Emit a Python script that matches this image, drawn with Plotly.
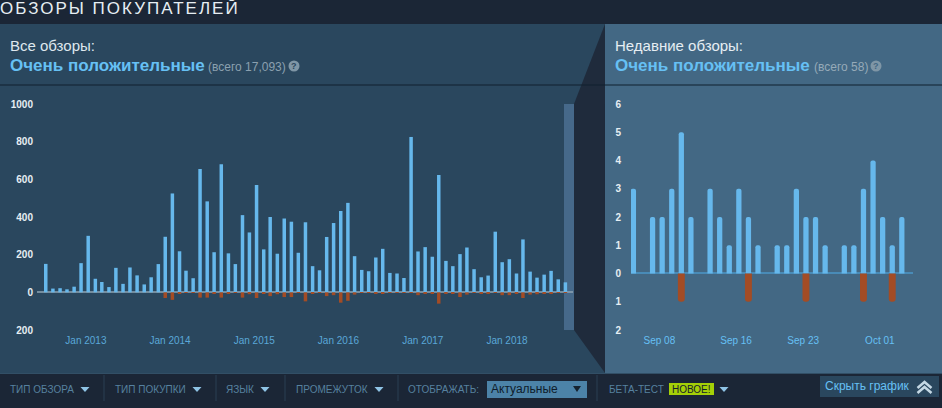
import plotly.graph_objects as go

# ---- data ----
months = ["2012-07-01", "2012-08-01", "2012-09-01", "2012-10-01", "2012-11-01", "2012-12-01",
          "2013-01-01", "2013-02-01", "2013-03-01", "2013-04-01", "2013-05-01", "2013-06-01",
          "2013-07-01", "2013-08-01", "2013-09-01", "2013-10-01", "2013-11-01", "2013-12-01",
          "2014-01-01", "2014-02-01", "2014-03-01", "2014-04-01", "2014-05-01", "2014-06-01",
          "2014-07-01", "2014-08-01", "2014-09-01", "2014-10-01", "2014-11-01", "2014-12-01",
          "2015-01-01", "2015-02-01", "2015-03-01", "2015-04-01", "2015-05-01", "2015-06-01",
          "2015-07-01", "2015-08-01", "2015-09-01", "2015-10-01", "2015-11-01", "2015-12-01",
          "2016-01-01", "2016-02-01", "2016-03-01", "2016-04-01", "2016-05-01", "2016-06-01",
          "2016-07-01", "2016-08-01", "2016-09-01", "2016-10-01", "2016-11-01", "2016-12-01",
          "2017-01-01", "2017-02-01", "2017-03-01", "2017-04-01", "2017-05-01", "2017-06-01",
          "2017-07-01", "2017-08-01", "2017-09-01", "2017-10-01", "2017-11-01", "2017-12-01",
          "2018-01-01", "2018-02-01", "2018-03-01", "2018-04-01", "2018-05-01", "2018-06-01",
          "2018-07-01", "2018-08-01", "2018-09-01"]
all_up = [151, 20, 22, 16, 30, 155,
          300, 72, 55, 28, 130, 45, 132, 90, 42, 80, 150, 295,
          525, 218, 115, 75, 655, 483, 213, 680, 207, 150, 410, 318,
          570, 228, 400, 205, 392, 375, 210, 372, 139, 117, 294, 368,
          432, 475, 192, 119, 112, 185, 231, 103, 100, 76, 825, 217,
          240, 189, 623, 167, 139, 203, 238, 123, 80, 89, 322, 160,
          176, 100, 281, 110, 78, 94, 114, 69, 53]
all_down = [0, 0, 0, 0, 0, 0,
            0, 0, 0, 0, 0, 0, 0, 0, 0, 0, 0, -30,
            -40, -5, -3, -3, -28, -28, -8, -28, -5, -3, -28, -10,
            -30, -5, -20, -10, -25, -25, -3, -48, -5, -3, -20, -15,
            -55, -45, -12, -3, -3, -8, -5, -3, -3, -3, -3, -15,
            -8, -8, -60, -5, -5, -25, -12, -3, -5, -5, -3, -15,
            -15, -5, -30, -12, -10, -8, -8, -2, -2]
days = ["2018-09-05", "2018-09-07", "2018-09-08", "2018-09-09", "2018-09-10", "2018-09-11",
        "2018-09-13", "2018-09-14", "2018-09-15", "2018-09-16", "2018-09-17", "2018-09-18",
        "2018-09-20", "2018-09-21", "2018-09-22", "2018-09-23", "2018-09-24", "2018-09-25",
        "2018-09-27", "2018-09-28", "2018-09-29", "2018-09-30", "2018-10-01", "2018-10-02", "2018-10-03"]
recent_up = [3, 2, 2, 3, 5, 2, 3, 2, 1, 3, 2, 1, 1, 1, 3, 2, 2, 1, 1, 1, 3, 4, 2, 1, 2]
recent_down = [0, 0, 0, 0, -1, 0, 0, 0, 0, 0, -1, 0, 0, 0, 0, -1, 0, 0, 0, 0, -1, 0, 0, -1, 0]
all_ticks = ["2012-12-22", "2013-12-22", "2014-12-22", "2015-12-22", "2016-12-22", "2017-12-22"]
all_tick_text = ["Jan 2013", "Jan 2014", "Jan 2015", "Jan 2016", "Jan 2017", "Jan 2018"]
recent_ticks = ["2018-09-07T17:00", "2018-09-15T17:00", "2018-09-22T17:00", "2018-09-30T17:00"]
recent_tick_text = ["Sep 08", "Sep 16", "Sep 23", "Oct 01"]
left_y_ticks = [-200, 0, 200, 400, 600, 800, 1000]
left_y_text = ["200", "0", "200", "400", "600", "800", "1000"]
right_y_ticks = [-2, -1, 0, 1, 2, 3, 4, 5, 6]
right_y_text = ["2", "1", "0", "1", "2", "3", "4", "5", "6"]

W, H = 942, 408
BLUE = "#66b8ec"
RED = "#a34c25"
DARK = "#1b2636"
def X(p): return p / W
def Y(p): return 1 - p / H

DAY_MS = 86400000
fig = go.Figure()
fig.add_bar(x=months, y=all_up, marker=dict(color=BLUE, line_width=0), xaxis="x", yaxis="y")
fig.add_bar(x=months, y=all_down, marker=dict(color=RED, line_width=0), xaxis="x", yaxis="y")
fig.add_bar(x=days, y=recent_up, width=0.55 * DAY_MS, marker=dict(color=BLUE, line_width=0), xaxis="x2", yaxis="y2")
fig.add_bar(x=days, y=recent_down, width=0.72 * DAY_MS, marker=dict(color=RED, line_width=0, cornerradius=3), xaxis="x2", yaxis="y2")

def rect(x0, y0, x1, y1, color, layer="below"):
    return dict(type="rect", xref="paper", yref="paper", x0=X(x0), x1=X(x1), y0=Y(y1), y1=Y(y0),
                fillcolor=color, line_width=0, layer=layer)
def line(x0, y0, x1, y1, color, width=1, layer="below"):
    return dict(type="line", xref="paper", yref="paper", x0=X(x0), x1=X(x1), y0=Y(y0), y1=Y(y1),
                line=dict(color=color, width=width), layer=layer)
def poly(points, color):
    path = "M " + " L ".join(f"{X(a):.5f},{Y(b):.5f}" for a, b in points) + " Z"
    return dict(type="path", xref="paper", yref="paper", path=path, fillcolor=color, line_width=0, layer="below")

shapes = [
    rect(0, 0, W, H, DARK),
    rect(0, 24, 605, 373, "#2a475e"),
    rect(605, 24, W, 373, "#436884"),
    poly([(605, 24), (574, 104), (574, 330), (605, 373)], "#1f2b3c"),
    line(0, 85, W, 85, "#10202e"),
    rect(564, 104, 574, 330, "#46698a"),
    line(0, 373.5, W, 373.5, "#324f66"),
    line(37, 292, 573, 292, "#8fa5b5", 1.5),
    line(631, 273, 913, 273, "#4b97c8", 1.5),
    rect(487, 381, 587, 398, "#4c83a8"),
    rect(669, 383, 714, 395, "#a4d007"),
    rect(820, 376, 939, 397, "#2a475e"),
]
for sx in [104, 216, 285, 398, 597]:
    shapes.append(line(sx, 375, sx, 401, "#2a3f53"))

def text(px, py, s, size, color, anchor="left", family="Liberation Sans", bold=False):
    if bold:
        s = f"<b>{s}</b>"
    return dict(x=X(px), y=Y(py), xref="paper", yref="paper", text=s, showarrow=False, xanchor=anchor,
                yanchor="middle", font=dict(family=family, size=size, color=color), align=anchor,
                borderpad=0, borderwidth=0)

anns = [
    text(0, 8, "ОБЗОРЫ ПОКУПАТЕЛЕЙ", 17, "#e6eef3"),
    text(10, 45, "Все обзоры:", 15, "#dfe8ee"),
    text(10, 66, "Очень положительные", 17, "#66c0f4", bold=True),
    text(208, 67, "(всего 17,093)", 12, "#8ba0af"),
    text(615, 45, "Недавние обзоры:", 15, "#e6eef3"),
    text(615, 66, "Очень положительные", 17, "#66c0f4", bold=True),
    text(814, 67, "(всего 58)", 12, "#96aab8"),
    text(294, 66, "?", 9, "#2a475e", "center", bold=True),
    text(876, 66, "?", 9, "#436884", "center", bold=True),
    text(10, 389, "ТИП ОБЗОРА", 10, "#56819f"),
    text(115, 389, "ТИП ПОКУПКИ", 10, "#56819f"),
    text(226, 389, "ЯЗЫК", 10, "#56819f"),
    text(296, 389, "ПРОМЕЖУТОК", 10, "#56819f"),
    text(408, 389, "ОТОБРАЖАТЬ:", 10, "#56819f"),
    text(491, 389, "Актуальные", 12, "#0f1d2b"),
    text(609, 389, "БЕТА-ТЕСТ", 10, "#56819f"),
    text(691.5, 389, "НОВОЕ!", 10, "#16202d", "center"),
    text(825, 386, "Скрыть график", 12, "#66c0f4"),
]
# small disclosure arrows, help badges and the chevron icon
for ax, color in [(85, "#8fc4e6"), (197, "#8fc4e6"), (265, "#8fc4e6"), (379, "#8fc4e6"), (724, "#8fc4e6")]:
    shapes.append(poly([(ax - 4.5, 387), (ax + 4.5, 387), (ax, 392)], color))
shapes.append(poly([(573, 386), (581, 386), (577, 392)], "#16232f"))
for cx in [294, 876]:
    shapes.append(dict(type="circle", xref="paper", yref="paper", x0=X(cx - 5.5), x1=X(cx + 5.5),
                       y0=Y(66 + 5.5), y1=Y(66 - 5.5), fillcolor="#7f96a6", line_width=0, layer="below"))
for cy in [383, 388]:
    shapes.append(dict(type="path", xref="paper", yref="paper", layer="above", fillcolor="rgba(0,0,0,0)",
                       path=f"M {X(917.5):.5f},{Y(cy + 5):.5f} L {X(924.5):.5f},{Y(cy - 1):.5f} L {X(931.5):.5f},{Y(cy + 5):.5f}",
                       line=dict(color="#c5d8e4", width=2.5)))

axis_font = dict(family="Liberation Sans", size=10)
y_font = dict(color="#e6eef3", size=10, family="Liberation Sans", weight=700)
fig.update_layout(
    width=W, height=H, margin=dict(l=0, r=0, t=0, b=0, autoexpand=False), showlegend=False,
    paper_bgcolor=DARK, plot_bgcolor="rgba(0,0,0,0)",
    barmode="relative", bargap=0.46, shapes=shapes, annotations=anns,
    xaxis=dict(domain=[X(37), X(573)], range=["2012-05-24", "2018-10-04"], tickvals=all_ticks, ticktext=all_tick_text,
               tickfont=dict(color="#5aa8d8", **axis_font), showgrid=False, zeroline=False, ticks="", anchor="y", ticklabelstandoff=3),
    yaxis=dict(domain=[Y(330), Y(104)], range=[-200, 1000], tickvals=left_y_ticks, ticktext=left_y_text,
               tickfont=y_font, showgrid=False, zeroline=False, ticks="", anchor="x", ticklabelstandoff=3),
    xaxis2=dict(domain=[X(631), X(913)], range=["2018-09-04T18:00", "2018-10-04T04:00"], tickvals=recent_ticks, ticktext=recent_tick_text,
                tickfont=dict(color="#66c0f4", **axis_font), showgrid=False, zeroline=False, ticks="", anchor="y2", ticklabelstandoff=3),
    yaxis2=dict(domain=[Y(330), Y(104)], range=[-2, 6], tickvals=right_y_ticks, ticktext=right_y_text,
                tickfont=y_font, showgrid=False, zeroline=False, ticks="", anchor="x2", ticklabelstandoff=9),
)

post = """
document.body.style.margin='0';
document.body.style.background='#1b2636';
var t=document.querySelector('.annotation text');
if(t){t.style.letterSpacing='2px';}
"""
fig.write_html("out.html", post_script=post, config=dict(displayModeBar=False))
